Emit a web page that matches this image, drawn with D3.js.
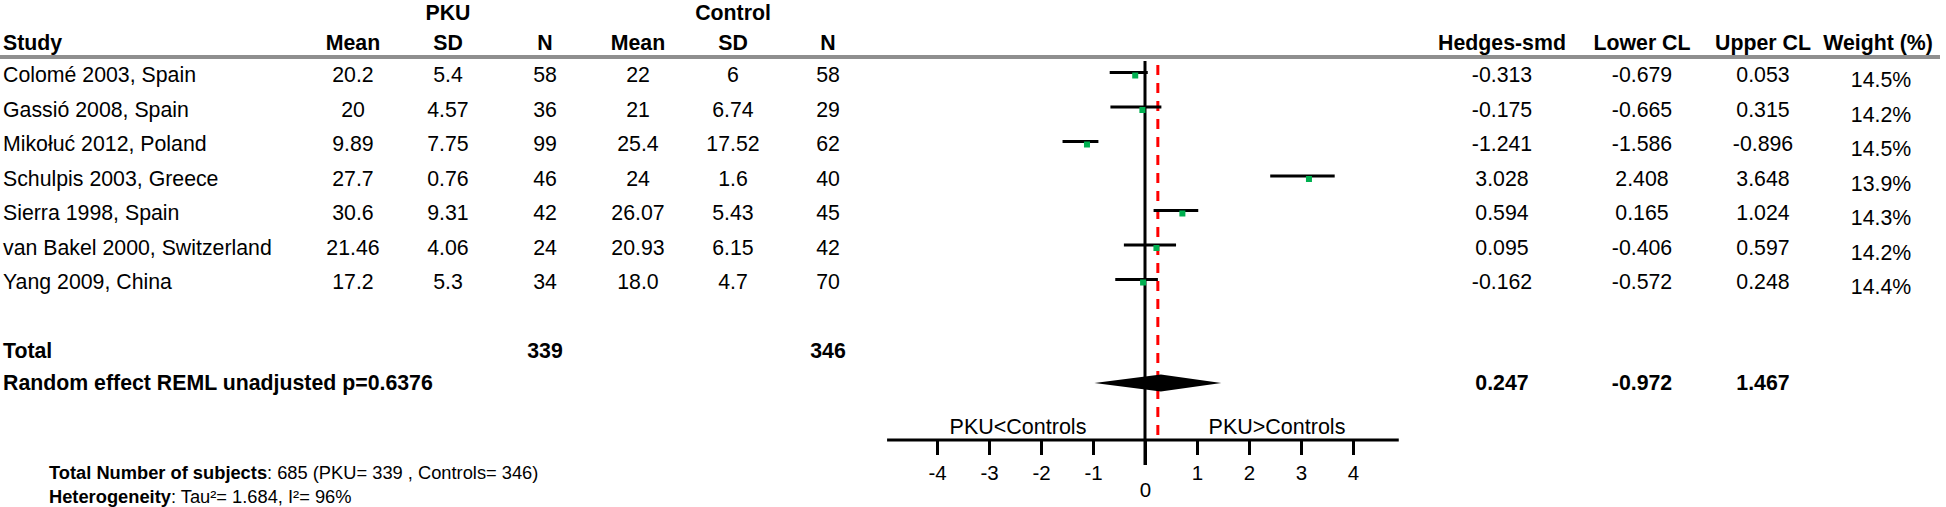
<!DOCTYPE html>
<html>
<head>
<meta charset="utf-8">
<script src="https://cdn.jsdelivr.net/npm/d3@7"></script>
<style>
  body { margin: 0; background: #fff; }
  svg { display: block; font-family: "Liberation Sans", Arial, sans-serif; }
  text { fill: #000; }
</style>
</head>
<body>
<svg id="chart" width="1946" height="507"></svg>
<script>
const studies = [
  'Colomé 2003, Spain',
  'Gassió 2008, Spain',
  'Mikołuć 2012, Poland',
  'Schulpis 2003, Greece',
  'Sierra 1998, Spain',
  'van Bakel 2000, Switzerland',
  'Yang 2009, China',
]
const pkuMean = ['20.2', '20', '9.89', '27.7', '30.6', '21.46', '17.2']
const pkuSD = ['5.4', '4.57', '7.75', '0.76', '9.31', '4.06', '5.3']
const pkuN = [58, 36, 99, 46, 42, 24, 34]
const ctlMean = ['22', '21', '25.4', '24', '26.07', '20.93', '18.0']
const ctlSD = ['6', '6.74', '17.52', '1.6', '5.43', '6.15', '4.7']
const ctlN = [58, 29, 62, 40, 45, 42, 70]
const smd = [-0.313, -0.175, -1.241, 3.028, 0.594, 0.095, -0.162]
const lowerCL = [-0.679, -0.665, -1.586, 2.408, 0.165, -0.406, -0.572]
const upperCL = [0.053, 0.315, -0.896, 3.648, 1.024, 0.597, 0.248]
const weights = [14.5, 14.2, 14.5, 13.9, 14.3, 14.2, 14.4]
const pooled = [0.247, -0.972, 1.467] // estimate, lower, upper
const axisTicks = [-4, -3, -2, -1, 0, 1, 2, 3, 4]
const axisExtent = [-4.96, 4.88]

const svg = d3.select('#chart')
// plain hyphen for negatives, like the original
const loc = d3.formatLocale({ decimal: '.', thousands: ',', grouping: [3], currency: ['', ''], minus: '-' })
const f3 = loc.format('.3f')
const fs = 21.3

// column centres
const col = { pMean: 353, pSD: 448, pN: 545, cMean: 638, cSD: 733, cN: 828,
              smd: 1502, lo: 1642, hi: 1763, w: 1881 }

const x = d3.scaleLinear().domain([-4, 4]).range([937, 1353])
const rowY = d3.scaleLinear().domain([0, studies.length - 1]).range([82, 289])
const totalY = 358, remlY = 390, axisY = 440

const txt = (g, s, px, py, opts = {}) => g.append('text')
  .attr('x', px).attr('y', py)
  .attr('text-anchor', opts.anchor || 'middle')
  .attr('font-size', opts.size || fs)
  .attr('font-weight', opts.bold ? 'bold' : 'normal')
  .text(s)

// header
const head = svg.append('g')
txt(head, 'PKU', col.pSD, 20, { bold: true })
txt(head, 'Control', col.cSD, 20, { bold: true })
txt(head, 'Study', 3, 50, { bold: true, anchor: 'start' })
;[['Mean', col.pMean], ['SD', col.pSD], ['N', col.pN], ['Mean', col.cMean], ['SD', col.cSD], ['N', col.cN],
  ['Hedges-smd', col.smd], ['Lower CL', col.lo], ['Upper CL', col.hi], ['Weight (%)', col.w - 3]]
  .forEach(([s, cx]) => txt(head, s, cx, 50, { bold: true }))
head.append('line').attr('x1', 0).attr('x2', 1940).attr('y1', 57).attr('y2', 57)
  .attr('stroke', '#8f8f8f').attr('stroke-width', 4)

// study rows
const rows = svg.append('g').selectAll('g').data(studies).join('g')
  .attr('transform', (d, i) => `translate(0,${rowY(i)})`)
rows.each(function(d, i) {
  const g = d3.select(this)
  txt(g, d, 3, 0, { anchor: 'start' })
  txt(g, pkuMean[i], col.pMean, 0)
  txt(g, pkuSD[i], col.pSD, 0)
  txt(g, pkuN[i], col.pN, 0)
  txt(g, ctlMean[i], col.cMean, 0)
  txt(g, ctlSD[i], col.cSD, 0)
  txt(g, ctlN[i], col.cN, 0)
  txt(g, f3(smd[i]), col.smd, 0)
  txt(g, f3(lowerCL[i]), col.lo, 0)
  txt(g, f3(upperCL[i]), col.hi, 0)
  txt(g, weights[i].toFixed(1) + '%', col.w, 5)
})

// totals
const tot = svg.append('g')
txt(tot, 'Total', 3, totalY, { bold: true, anchor: 'start' })
txt(tot, d3.sum(pkuN), col.pN, totalY, { bold: true })
txt(tot, d3.sum(ctlN), col.cN, totalY, { bold: true })
txt(tot, 'Random effect REML unadjusted p=0.6376', 3, remlY, { bold: true, anchor: 'start' })
txt(tot, f3(pooled[0]), col.smd, remlY, { bold: true })
txt(tot, f3(pooled[1]), col.lo, remlY, { bold: true })
txt(tot, f3(pooled[2]), col.hi, remlY, { bold: true })

// forest plot
const plot = svg.append('g')
plot.append('line').attr('x1', x(0)).attr('x2', x(0)).attr('y1', 61).attr('y2', 465)
  .attr('stroke', '#000').attr('stroke-width', 3)
plot.append('line').attr('x1', x(pooled[0])).attr('x2', x(pooled[0])).attr('y1', 65).attr('y2', axisY)
  .attr('stroke', '#ff0000').attr('stroke-width', 3).attr('stroke-dasharray', '10,8')

plot.selectAll('line.ci').data(studies).join('line').attr('class', 'ci')
  .attr('x1', (d, i) => x(lowerCL[i])).attr('x2', (d, i) => x(upperCL[i]))
  .attr('y1', (d, i) => rowY(i) - 9.5).attr('y2', (d, i) => rowY(i) - 9.5)
  .attr('stroke', '#000').attr('stroke-width', 3)
plot.selectAll('rect.pt').data(studies).join('rect').attr('class', 'pt')
  .attr('x', (d, i) => x(smd[i]) + 3.5).attr('y', (d, i) => rowY(i) - 9.5)
  .attr('width', 6).attr('height', 6).attr('fill', '#00b050')

const dy = remlY - 7
plot.append('path')
  .attr('d', `M${x(pooled[1])},${dy} L${x(pooled[0]) + 3},${dy - 8.5} L${x(pooled[2])},${dy} L${x(pooled[0]) + 3},${dy + 8.5} Z`)
  .attr('fill', '#000')

// axis
const axis = plot.append('g').attr('transform', `translate(0,${axisY})`)
  .call(d3.axisBottom(x).tickValues(axisTicks).tickSize(15).tickFormat(loc.format('d')))
axis.select('.domain').remove()
axis.selectAll('.tick line').attr('stroke', '#000').attr('stroke-width', 3)
axis.selectAll('.tick text').attr('font-size', 20.5).attr('font-family', null).attr('fill', '#000')
  .attr('dy', null).attr('y', 40)
axis.selectAll('.tick').filter(d => d === 0).select('line').attr('y2', 25)
axis.selectAll('.tick').filter(d => d === 0).select('text').attr('y', 57)
axis.append('line').attr('x1', x(axisExtent[0])).attr('x2', x(axisExtent[1]))
  .attr('stroke', '#000').attr('stroke-width', 3)
txt(plot, 'PKU<Controls', 1018, 434, { size: 21.5 })
txt(plot, 'PKU>Controls', 1277, 434, { size: 21.5 })

// footnote
const foot = svg.append('g').attr('font-size', 18.3)
const l1 = foot.append('text').attr('x', 49).attr('y', 479)
l1.append('tspan').attr('font-weight', 'bold').text('Total Number of subjects')
l1.append('tspan').text(`: ${d3.sum(pkuN) + d3.sum(ctlN)} (PKU= ${d3.sum(pkuN)} , Controls= ${d3.sum(ctlN)})`)
const l2 = foot.append('text').attr('x', 49).attr('y', 503)
l2.append('tspan').attr('font-weight', 'bold').text('Heterogeneity')
l2.append('tspan').text(': Tau²= 1.684, I²= 96%')
</script>
</body>
</html>
